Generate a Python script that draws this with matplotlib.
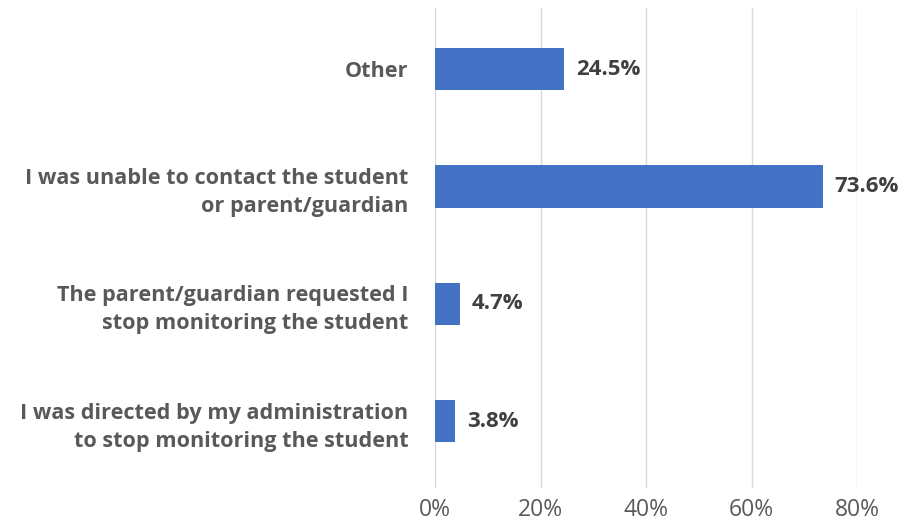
import matplotlib.pyplot as plt

categories = ["Other",
              "I was unable to contact the student\nor parent/guardian",
              "The parent/guardian requested I\nstop monitoring the student",
              "I was directed by my administration\nto stop monitoring the student"]
values = [24.5, 73.6, 4.7, 3.8]
ticks = [0, 20, 40, 60, 80]

plt.rcParams["font.family"] = ["Open Sans", "DejaVu Sans"]
fig = plt.figure(figsize=(9.11, 5.24), dpi=100)
ax = fig.add_axes([435 / 911, 36 / 524, 422 / 911, 480 / 524])

pos = range(len(values))
ax.barh(pos, values, height=0.36, color="#4472C4", zorder=3)
for y, v in zip(pos, values):
    ax.text(v + 2.2, y, f"{v:.1f}%", va="center", ha="left",
            fontsize=16, fontweight="bold", color="#404040")

ax.set_xlim(0, 80)
ax.set_ylim(3.57, -0.52)
ax.set_xticks(ticks)
ax.set_xticklabels([f"{t}%" for t in ticks])
ax.set_yticks(list(pos))
ax.set_yticklabels(categories, fontsize=15.6, fontweight="bold", color="#595959",
                   ha="right", multialignment="right", linespacing=1.45)
ax.tick_params(axis="x", length=0, labelsize=16.5, labelcolor="#595959", pad=7)
ax.tick_params(axis="y", length=0, pad=19)
ax.grid(axis="x", color="#D9D9D9", linewidth=1, zorder=0)
for s in ax.spines.values():
    s.set_visible(False)

fig.savefig("out.png", dpi=100)
